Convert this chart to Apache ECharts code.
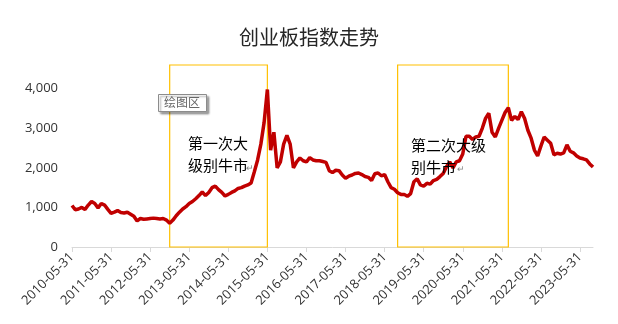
<!DOCTYPE html>
<html><head><meta charset="utf-8">
<script src="https://cdn.jsdelivr.net/npm/echarts@6/dist/echarts.min.js"></script>
<style>html,body{margin:0;padding:0;background:#fff}#c{width:618px;height:324px}</style>
</head><body><div id="c"></div>
<script>
// Monthly series, first point = 2010-05-31, one value per month-end
const startYear = 2010, startMonth = 5;
const values = [
  1050, 940, 960, 1000, 950, 1060, 1150, 1100, 990, 1100, 1060, 950,
  850, 880, 920, 870, 860, 880, 830, 780, 660, 720, 700, 710,
  720, 730, 720, 710, 720, 680, 600, 680, 790, 880, 960, 1020,
  1100, 1150, 1220, 1300, 1390, 1300, 1380, 1500, 1540, 1450, 1380, 1290,
  1330, 1380, 1420, 1480, 1500, 1540, 1570, 1620, 1900, 2200, 2600, 3150,
  3980, 2450, 2900, 2000, 2150, 2600, 2820, 2600, 2000, 2150, 2250, 2180,
  2150, 2260, 2200, 2180, 2180, 2160, 2140, 1930, 1880, 1940, 1930, 1820,
  1740, 1790, 1820, 1860, 1870, 1830, 1780, 1760, 1680, 1850, 1870, 1800,
  1830, 1650, 1500, 1460, 1370, 1330, 1330, 1280, 1350, 1650, 1720, 1570,
  1540, 1610, 1590, 1680, 1710, 1780, 1860, 2030, 2150, 2000, 2150, 2180,
  2350, 2800, 2800, 2720, 2780, 2800, 3000, 3250, 3380, 2900, 2780, 3000,
  3200, 3400, 3520, 3200, 3300, 3220, 3420, 3250, 2950, 2750, 2450, 2300,
  2550, 2780, 2700, 2620, 2330, 2370, 2350, 2380, 2580, 2420, 2380, 2300,
  2250, 2230, 2200, 2100, 2020
];
const yTicks = [0, 1000, 2000, 3000, 4000];
const bullStartIdx = [30, 100];
const bullEndIdx = [60, 134];
const titleText = '创业板指数走势';

// month-end date categories
function monthEnd(i) {
  const m0 = startMonth - 1 + i;
  const y = startYear + Math.floor(m0 / 12);
  const m = m0 % 12;
  const d = new Date(Date.UTC(y, m + 1, 0)).getUTCDate();
  return y + '-' + String(m + 1).padStart(2, '0') + '-' + String(d).padStart(2, '0');
}
const categories = values.map((_, i) => monthEnd(i));

const chart = echarts.init(document.getElementById('c'), null, {renderer: 'canvas'});
const isTick = (idx) => idx % 12 === 0;
const fmt = v => String(v).replace(/\B(?=(\d{3})+(?!\d))/g, ',');
const cjk = '"Noto Sans CJK SC", "Microsoft YaHei", sans-serif';

chart.setOption({
  animation: false,
  backgroundColor: '#fff',
  title: {
    text: titleText, left: 'center', top: 22,
    textStyle: {fontSize: 20, fontWeight: 'normal', color: '#262626', fontFamily: cjk}
  },
  grid: {left: 72, right: 25, top: 65, bottom: 77, containLabel: false, outerBoundsMode: 'none'},
  xAxis: {
    type: 'category', data: categories, boundaryGap: false,
    axisLine: {lineStyle: {color: '#d9d9d9', width: 1}},
    axisTick: {show: true, interval: isTick, length: 5, lineStyle: {color: '#d9d9d9'}},
    axisLabel: {interval: isTick, rotate: 45, fontSize: 13, color: '#333', margin: 8,
      fontFamily: '"Open Sans", "Noto Sans", sans-serif'},
    splitLine: {show: false}
  },
  yAxis: {
    type: 'value', min: 0, max: 4600, interval: 1000,
    axisLine: {show: false}, axisTick: {show: false}, splitLine: {show: false},
    axisLabel: {margin: 14, fontSize: 13, color: '#333', showMaxLabel: false,
      fontFamily: '"Open Sans", "Noto Sans", sans-serif',
      formatter: v => (yTicks.indexOf(v) >= 0 ? fmt(v) : '')}
  },
  series: [{
    type: 'line', data: values, showSymbol: false, symbol: 'none',
    lineStyle: {color: '#C00000', width: 3.5}, z: 3,
    markArea: {
      silent: true,
      itemStyle: {color: 'rgba(0,0,0,0)', borderColor: '#FFC000', borderWidth: 1.2},
      data: bullStartIdx.map((s, k) => [{xAxis: categories[s]}, {xAxis: categories[bullEndIdx[k]]}])
    }
  }],
  graphic: [
    {type: 'text', left: 188, top: 136, z: 10, style: {text: '第一次大', font: '15px ' + cjk, fill: '#000'}},
    {type: 'text', left: 188, top: 158, z: 10, style: {text: '级别牛市', font: '15px ' + cjk, fill: '#000'}},
    {type: 'text', left: 246, top: 163, z: 10, style: {text: '↵', font: '9px ' + cjk, fill: '#888'}},
    {type: 'text', left: 411, top: 138, z: 10, style: {text: '第二次大级', font: '15px ' + cjk, fill: '#000'}},
    {type: 'text', left: 411, top: 160, z: 10, style: {text: '别牛市', font: '15px ' + cjk, fill: '#000'}},
    {type: 'text', left: 457, top: 164, z: 10, style: {text: '↵', font: '9px ' + cjk, fill: '#888'}},
    {type: 'rect', left: 158, top: 94, z: 20, shape: {width: 48, height: 17},
      style: {fill: '#fff', stroke: '#8c8c8c', lineWidth: 1,
        shadowColor: 'rgba(0,0,0,0.35)', shadowOffsetX: 2, shadowOffsetY: 2, shadowBlur: 2}},
    {type: 'text', left: 164, top: 96, z: 21, style: {text: '绘图区', font: '12px ' + cjk, fill: '#666'}}
  ]
});
</script>
</body></html>
